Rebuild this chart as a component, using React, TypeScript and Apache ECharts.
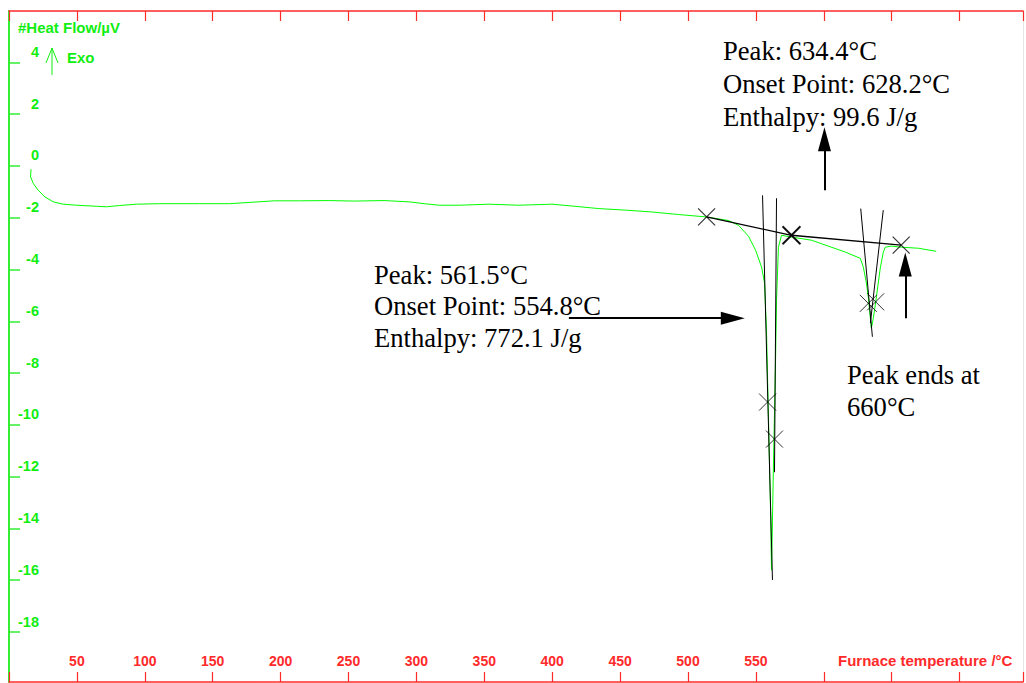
import React, { useEffect, useRef } from 'react';
import * as echarts from 'echarts';

// Heat-flow curve (°C, µV)
const curveTemps = [16.2, 15.9, 17.9, 21.5, 26.5, 32.6, 39.9, 49.8, 64.5, 71.8, 81.6, 93.9, 111, 140.4, 162.4, 195.5, 213.9, 235.9, 254.3, 276.3, 294.7, 305.8, 316.8, 331.5, 353.5, 375.6, 399.8, 414.5, 434.4, 454.2, 473.3, 493.2, 513.0, 529.9, 537.3, 544.6, 549.8, 554.2, 556.4, 557.8, 559.3, 560.8, 561.5, 562.2, 563.3, 564.4, 565.2, 566.6, 568.9, 576.2, 590.9, 615.9, 626.9, 629.1, 631.3, 632.8, 634.3, 635.0, 636.5, 637.9, 640.1, 641.6, 643.8, 645.3, 649.7, 657.0, 669.6, 682.8];
const curveValues = [-0.13, -0.43, -0.68, -0.94, -1.2, -1.39, -1.48, -1.52, -1.56, -1.58, -1.53, -1.48, -1.46, -1.46, -1.46, -1.35, -1.35, -1.34, -1.36, -1.34, -1.39, -1.46, -1.52, -1.52, -1.48, -1.52, -1.48, -1.55, -1.65, -1.71, -1.78, -1.88, -1.97, -2.11, -2.3, -2.72, -3.26, -3.91, -4.53, -6.34, -9.82, -13.29, -15.61, -13.68, -10.59, -7.77, -5.19, -3.14, -2.68, -2.75, -2.87, -3.33, -3.57, -3.91, -4.49, -5.07, -5.88, -6.27, -5.88, -5.38, -4.53, -3.95, -3.34, -3.14, -3.1, -3.14, -3.18, -3.3];

// Baseline construction (through the three markers)
const baselineTemps = [513.7, 576.2, 657.0];
const baselineValues = [-1.97, -2.68, -3.06];

// Tangent lines [T1, V1, T2, V2]
const tangentLines = [
  [554.9, -1.14, 562.2, -15.99],
  [565.2, -1.25, 563.7, -11.83],
  [627.2, -1.65, 635.8, -6.6],
  [643.8, -1.71, 634.3, -6.07],
];

// Cross markers on the tangents
const crossTemps = [558.6, 563.7, 632.8, 638.2];
const crossValues = [-9.12, -10.55, -5.31, -5.25];

// Arrows [T1, V1, T2, V2] (end = head)
const arrows = [
  [412.3, -5.88, 533.0, -5.88],
  [600.5, -0.94, 600.5, 1.03],
  [660.0, -5.88, 660.0, -3.81],
];

const yTicks = [-18, -16, -14, -12, -10, -8, -6, -4, -2, 0, 2, 4];
const xLabelValues = [50, 100, 150, 200, 250, 300, 350, 400, 450, 500, 550];

const peak2Lines = ['Peak: 634.4°C', 'Onset Point: 628.2°C', 'Enthalpy: 99.6 J/g'];
const peak1Lines = ['Peak: 561.5°C', 'Onset Point: 554.8°C', 'Enthalpy: 772.1 J/g'];
const peakEndLines = ['Peak ends at', '660°C'];

const GREEN = '#00ff00';
const AXIS_GREEN = '#33ee33';
const LABEL_GREEN = '#11ee11';
const RED = '#ff2a2a';
const CROSS = 'path://M0,0L20,20M20,0L0,20';

export default function App() {
  const ref = useRef<HTMLDivElement>(null);
  useEffect(() => {
    const chart = echarts.init(ref.current!, null, { renderer: 'svg' });
    const curve = curveTemps.map((t, i) => [t, curveValues[i]]);
    const baseline = baselineTemps.map((t, i) => [t, baselineValues[i]]);
    const crosses = crossTemps.map((t, i) => [t, crossValues[i]]);

    const textLines = (lines: string[], x: number, y0: number, step: number) =>
      lines.map((s, i) => ({
        type: 'text',
        left: x,
        top: y0 + i * step - 15,
        style: { text: s, fill: '#000', font: '26.6px "Liberation Serif", "Times New Roman", serif' },
        silent: true,
      }));

    const option: any = {
      animation: false,
      backgroundColor: '#fff',
      grid: { left: 9, right: 1, top: 11, bottom: 1, containLabel: false },
      xAxis: [
        {
          type: 'value',
          position: 'bottom',
          min: 0,
          max: 746.7,
          interval: 50,
          splitLine: { show: false },
          axisLine: { show: true, onZero: false, lineStyle: { color: RED, width: 1.5 } },
          axisTick: { show: true, inside: true, length: 10, lineStyle: { color: RED, width: 1.2 } },
          axisLabel: {
            show: true,
            inside: true,
            margin: 14,
            color: RED,
            fontWeight: 'bold',
            fontSize: 14,
            fontFamily: '"Liberation Sans", Arial, sans-serif',
            formatter: (v: number) => (xLabelValues.indexOf(v) >= 0 ? String(v) : ''),
          },
        },
        {
          type: 'value',
          position: 'top',
          min: 0,
          max: 746.7,
          interval: 50,
          splitLine: { show: false },
          axisLine: { show: true, onZero: false, lineStyle: { color: RED, width: 1.5 } },
          axisTick: { show: true, inside: true, length: 10, lineStyle: { color: RED, width: 1.2 } },
          axisLabel: { show: false },
        },
      ],
      yAxis: [
        {
          type: 'value',
          position: 'left',
          min: -19.93,
          max: 5.98,
          splitLine: { show: false },
          axisLine: { show: true, onZero: false, lineStyle: { color: AXIS_GREEN, width: 2 } },
          axisTick: { show: true, inside: true, length: 11, customValues: yTicks, lineStyle: { color: AXIS_GREEN, width: 1.5 } },
          axisLabel: {
            show: true,
            inside: true,
            margin: 30,
            align: 'right',
            verticalAlign: 'bottom',
            padding: [0, 0, 3, 0],
            customValues: yTicks,
            color: LABEL_GREEN,
            fontWeight: 'bold',
            fontSize: 14.5,
            fontFamily: '"Liberation Sans", Arial, sans-serif',
          },
        },
        {
          type: 'value',
          position: 'right',
          min: -19.93,
          max: 5.98,
          splitLine: { show: false },
          axisLine: { show: true, onZero: false, lineStyle: { color: '#e4e4e4', width: 1 } },
          axisTick: { show: false },
          axisLabel: { show: false },
        },
      ],
      series: [
        {
          type: 'line',
          data: curve,
          symbol: 'none',
          lineStyle: { color: GREEN, width: 1 },
          silent: true,
          z: 2,
        },
        {
          type: 'line',
          data: baseline,
          symbol: 'none',
          lineStyle: { color: '#000', width: 1.3 },
          silent: true,
          z: 3,
        },
        ...tangentLines.map((l) => ({
          type: 'line',
          data: [[l[0], l[1]], [l[2], l[3]]],
          symbol: 'none',
          lineStyle: { color: '#000', width: 1 },
          silent: true,
          z: 3,
        })),
        {
          type: 'scatter',
          data: baseline,
          symbol: CROSS,
          symbolSize: 17,
          itemStyle: { color: 'none', borderColor: '#000', borderWidth: 1.2 },
          silent: true,
          z: 4,
        },
        {
          type: 'scatter',
          data: [baseline[1]],
          symbol: CROSS,
          symbolSize: 18,
          itemStyle: { color: 'none', borderColor: '#000', borderWidth: 2 },
          silent: true,
          z: 4,
        },
        {
          type: 'scatter',
          data: crosses,
          symbol: CROSS,
          symbolSize: 17,
          itemStyle: { color: 'none', borderColor: '#000', borderWidth: 1 },
          silent: true,
          z: 4,
        },
        {
          type: 'line',
          data: [],
          silent: true,
          markLine: {
            silent: true,
            animation: false,
            symbol: ['none', 'triangle'],
            symbolSize: [13, 24],
            label: { show: false },
            emphasis: { disabled: true },
            lineStyle: { color: '#000', width: 2, type: 'solid' },
            data: arrows.map((a) => [{ coord: [a[0], a[1]] }, { coord: [a[2], a[3]] }]),
          },
          z: 5,
        },
      ],
      graphic: [
        {
          type: 'text',
          left: 18,
          top: 20,
          style: { text: '#Heat Flow/µV', fill: LABEL_GREEN, font: 'bold 15px "Liberation Sans", Arial, sans-serif' },
          silent: true,
        },
        {
          type: 'text',
          left: 67,
          top: 50,
          style: { text: 'Exo', fill: LABEL_GREEN, font: 'bold 15px "Liberation Sans", Arial, sans-serif' },
          silent: true,
        },
        {
          type: 'line',
          shape: { x1: 52, y1: 48, x2: 52, y2: 75 },
          style: { stroke: LABEL_GREEN, lineWidth: 1 },
          silent: true,
        },
        {
          type: 'polyline',
          shape: { points: [[46, 63], [52, 48], [58, 63]] },
          style: { stroke: LABEL_GREEN, lineWidth: 1, fill: 'none' },
          silent: true,
        },
        {
          type: 'text',
          left: 838,
          top: 653,
          style: { text: 'Furnace temperature /°C', fill: RED, font: 'bold 15px "Liberation Sans", Arial, sans-serif' },
          silent: true,
        },
        ...textLines(peak2Lines, 723, 52, 33),
        ...textLines(peak1Lines, 374, 276, 31.5),
        ...textLines(peakEndLines, 847, 376, 32),
      ],
    };
    chart.setOption(option);
    return () => chart.dispose();
  }, []);
  return (
    <div
      ref={ref}
      style={{ position: 'fixed', left: 0, top: 0, width: 1026, height: 683, background: '#fff' }}
    />
  );
}
